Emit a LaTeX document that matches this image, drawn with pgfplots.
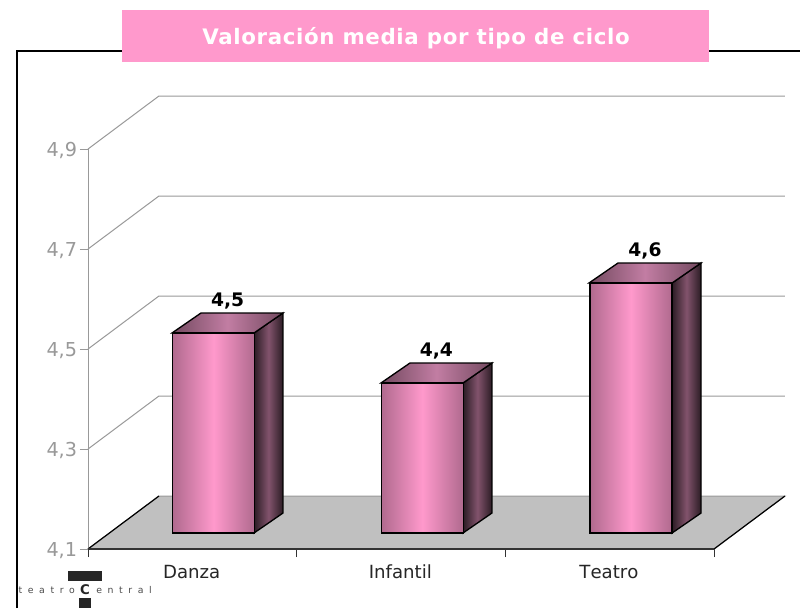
\documentclass[border=0pt]{standalone}
\usepackage{pgfplots}
\pgfplotsset{compat=1.18}
\usepackage{fontspec}
\setmainfont{DejaVu Sans}
\definecolor{pinkm}{HTML}{FF99CC}
\definecolor{pinke}{HTML}{B06A8E}
\definecolor{topm}{HTML}{C27DA3}
\definecolor{tope}{HTML}{734A60}
\definecolor{sidem}{HTML}{82536C}
\definecolor{sidee}{HTML}{2B1C24}
\definecolor{tl}{HTML}{999999}
\tikzset{
 frontshade/.style={left color=pinke,right color=pinke,middle color=pinkm,draw=black,line width=1pt},
 topshade/.style={left color=tope,right color=tope,middle color=topm,draw=black,line width=1pt},
 sideshade/.style={left color=sidee,right color=sidee,middle color=sidem,draw=black,line width=1pt},
 wall/.style={draw=tl,line width=0.75pt,sharp plot,no markers}
}
\pgfplotsset{frontbar/.style={ybar,bar width=61.5pt,xshift=16pt,yshift=12pt,frontshade,
 nodes near coords,
 every node near coord/.append style={/pgf/number format/fixed,/pgf/number format/fixed zerofill,/pgf/number format/precision=1,/pgf/number format/use comma,/pgf/number format/assume math mode=true,
  font=\fontsize{14pt}{16pt}\bfseries,text=black,anchor=center,xshift=10.5pt,yshift=24pt}}}
\begin{document}
\begin{tikzpicture}[x=0.75pt,y=-0.75pt]
\path[use as bounding box,fill=white] (0,0) rectangle (800,608);
% frame
\draw[black,line width=1.2pt] (17,608) -- (17,51) -- (800,51);
% title
\fill[pinkm] (122,10) rectangle (709,62);
\node[text=white,font=\fontsize{16pt}{18pt}\bfseries\addfontfeatures{LetterSpace=3}] at (416,38) {Valoración media por tipo de ciclo};
% logo
\fill[black!85] (68,571) rectangle (102,581);
\fill[black!85] (79,598) rectangle (91,608);
\node[text=black!85,inner sep=0pt,font=\fontsize{10pt}{12pt}\bfseries] at (85,590) {C};
\node[text=black!70,anchor=east,inner sep=0pt,font=\fontsize{7pt}{8pt}\selectfont\addfontfeatures{LetterSpace=60}] at (75,590) {teatro};
\node[text=black!70,anchor=west,inner sep=0pt,font=\fontsize{7pt}{8pt}\selectfont\addfontfeatures{LetterSpace=60}] at (96,590) {entral};
\begin{axis}[
 at={(66pt,-411.75pt)},anchor=south west,
 scale only axis,width=469.5pt,height=300pt,
 xmin=-0.5,xmax=2.5,ymin=4.1,ymax=4.9,
 clip=false,
 axis x line=bottom,axis y line=left,
 axis line style={-},
 x axis line style={draw=black!80,line width=1.5pt},
 y axis line style={draw=tl,line width=0.75pt},
 xtick={0,1,2},xticklabels={Danza,Infantil,Teatro},
 minor xtick={-0.5,0.5,1.5,2.5},
 ytick={4.1,4.3,4.5,4.7,4.9},
 major x tick style={draw=none},
 minor x tick style={draw=black!80,line width=0.75pt},
 minor tick length=6pt,
 y tick style={draw=tl,line width=0.75pt},
 major tick length=6pt,
 tick align=outside,
 /pgf/number format/assume math mode=true,
 /pgf/number format/use comma,
 y tick label style={/pgf/number format/fixed,/pgf/number format/fixed zerofill,/pgf/number format/precision=1,font=\fontsize{14.4pt}{16pt}\selectfont,text=tl,inner sep=1.5pt,xshift=-0.5pt,yshift=-1.2pt},
 x tick label style={font=\fontsize{13.6pt}{16pt}\selectfont\addfontfeatures{Kerning=Off},text=black!85,text height=10pt,text depth=0pt,yshift=-2.5pt,xshift=-0.5pt},
]
% floor
\addplot[fill={rgb,255:red,192;green,192;blue,192},draw=tl,line width=0.75pt] coordinates {(-0.5,4.1)(-0.16,4.206)(2.84,4.206)(2.5,4.1)} -- cycle;
\addplot[draw=black,line width=0.9pt,no markers] coordinates {(2.84,4.206)(2.5,4.1)};
\addplot[draw=black,line width=0.9pt,no markers] coordinates {(-0.5,4.1)(-0.16,4.206)};
\addplot[draw=black!80,line width=1.5pt,no markers] coordinates {(-0.5,4.1)(2.5,4.1)};
% walls
\addplot[wall] coordinates {(-0.5,4.3)(-0.16,4.406)(2.84,4.406)};
\addplot[wall] coordinates {(-0.5,4.5)(-0.16,4.606)(2.84,4.606)};
\addplot[wall] coordinates {(-0.5,4.7)(-0.16,4.806)(2.84,4.806)};
\addplot[wall] coordinates {(-0.5,4.9)(-0.16,5.006)(2.84,5.006)};
% side faces
\addplot[sideshade] coordinates {(0.2955,4.532)(0.4345,4.572)(0.4345,4.172)(0.2955,4.132)} -- cycle;
\addplot[sideshade] coordinates {(1.297,4.432)(1.436,4.472)(1.436,4.172)(1.297,4.132)} -- cycle;
\addplot[sideshade] coordinates {(2.299,4.632)(2.438,4.672)(2.438,4.172)(2.299,4.132)} -- cycle;
% top faces
\addplot[topshade] coordinates {(-0.0975,4.532)(0.2955,4.532)(0.4345,4.572)(0.0415,4.572)} -- cycle;
\addplot[topshade] coordinates {(0.904,4.432)(1.297,4.432)(1.436,4.472)(1.043,4.472)} -- cycle;
\addplot[topshade] coordinates {(1.901,4.632)(2.299,4.632)(2.438,4.672)(2.040,4.672)} -- cycle;
% front faces
\addplot[frontbar] coordinates {(0,4.5)};
\addplot[frontbar] coordinates {(1,4.4)};
\addplot[frontbar] coordinates {(2,4.6)};
\end{axis}
\end{tikzpicture}
\end{document}
